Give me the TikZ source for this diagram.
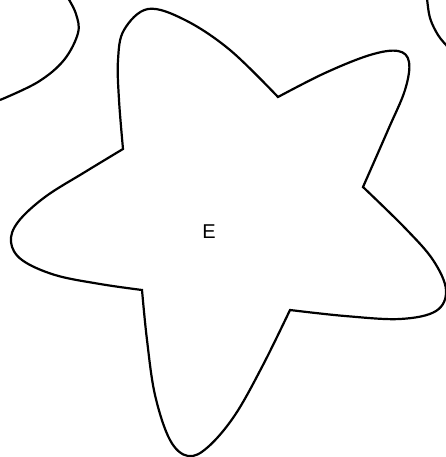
\documentclass[tikz,border=0pt]{standalone}
\usepackage{fontspec}
\setmainfont{Liberation Sans}
\begin{document}
\begin{tikzpicture}[x=1pt,y=-1pt,
  outline/.style={draw=black,line width=2.2pt,line join=miter},
  lbl/.style={font=\fontsize{20}{24}\selectfont}]
\useasboundingbox (0,0) rectangle (446,457);
% star
\draw[outline]
  plot[smooth,tension=0.6] coordinates {(123,149) (119,100) (118,60) (124,30) (148,9) (185,20) (230,50) (278,97)}
  -- plot[smooth,tension=0.6] coordinates {(278,97) (325,73) (370,55) (398,51) (409,62) (405,90) (388,130) (363,187)}
  -- plot[smooth,tension=0.6] coordinates {(363,187) (405,228) (433,260) (446,290) (436,311) (400,319) (345,316) (290,310)}
  -- plot[smooth,tension=0.6] coordinates {(290,310) (263,365) (235,415) (208,447) (188,456) (170,440) (155,395) (147,340) (142,290)}
  -- plot[smooth,tension=0.6] coordinates {(142,290) (100,284) (55,275) (22,260) (11,242) (18,222) (45,197) (85,172) (123,149)}
  -- cycle;
\node[lbl] (e) at (209,232) {E};
% partial neighbouring shapes
\draw[outline] plot[smooth,tension=0.6] coordinates {(0,100) (38,82) (64,60) (78,33) (76,14) (68,-2)};
\draw[outline] plot[smooth,tension=0.6] coordinates {(427,-2) (430,18) (438,35) (447,46)};
\end{tikzpicture}
\end{document}
